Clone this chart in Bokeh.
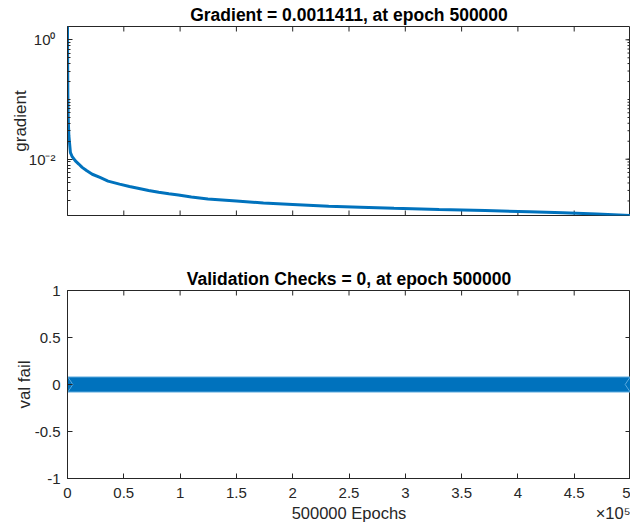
import math
from bokeh.plotting import figure
from bokeh.layouts import column, row
from bokeh.models import FixedTicker, LinearAxis, Range1d, Spacer
from bokeh.embed import file_html
from bokeh.resources import INLINE

# ---------------- data ----------------
grad_epochs = [0, 100, 300, 600, 1200, 2600, 4000, 7000, 10000, 13000, 17200, 22000,
               28800, 36000, 46200, 55000, 63600, 72000, 81000, 90000, 98500, 110000,
               124700, 150000, 174000, 200000, 232000, 260000, 290000, 330000, 371000,
               410000, 440000, 470000, 500000]
grad_values = [1.67, 0.5, 0.12, 0.05, 0.025, 0.0129, 0.0112, 0.0094, 0.0083, 0.0073,
               0.0064, 0.0056, 0.00495, 0.0043, 0.00383, 0.0035, 0.00324, 0.0030,
               0.00279, 0.00264, 0.00251, 0.00232, 0.00215, 0.00199, 0.00185, 0.00175,
               0.00163, 0.00157, 0.00151, 0.00144, 0.00138, 0.00132, 0.00127, 0.00121,
               0.0011411]

val_epochs = [0, 500000]
val_fail = [0, 0]

x_ticks = [0, 50000, 100000, 150000, 200000, 250000, 300000, 350000, 400000, 450000, 500000]
x_tick_labels = ["0", "0.5", "1", "1.5", "2", "2.5", "3", "3.5", "4", "4.5", "5"]

# bottom caption row: axis title and the x10^5 multiplier, with their x positions
x_caption_pos = [250000, 490000]
x_caption_text = ["500000 Epochs", "×10⁵"]

grad_major_ticks = [0.01, 1]
grad_tick_labels = ["10⁻²", "10⁰"]
grad_minor_ticks = [m * 10.0 ** e for e in (-3, -2, -1, 0) for m in range(1, 10)]

val_ticks = [-1, -0.5, 0, 0.5, 1]
val_tick_labels = ["-1", "-0.5", "0", "0.5", "1"]

grad_title = "Gradient = 0.0011411, at epoch 500000"
val_title = "Validation Checks = 0, at epoch 500000"
grad_ylabel = "gradient"
val_ylabel = "val fail"

# ---------------- style ----------------
FONT = "Liberation Sans"
AX = "#262626"
LINE = "#0072BD"
W = 623


def style_axis(ax):
    ax.axis_line_color = AX
    ax.major_tick_line_color = AX
    ax.minor_tick_line_color = AX
    ax.major_tick_in = 5
    ax.major_tick_out = 0
    ax.minor_tick_in = 3
    ax.minor_tick_out = 0
    ax.major_label_text_font = FONT
    ax.major_label_text_color = AX
    ax.major_label_text_font_size = "15px"
    ax.axis_label_text_font = FONT
    ax.axis_label_text_font_size = "17px"
    ax.axis_label_text_font_style = "normal"
    ax.axis_label_text_color = AX


def style_fig(p, title):
    p.title.text = title
    p.title.align = "center"
    p.title.text_font = FONT
    p.title.text_font_size = "17.5px"
    p.title.text_font_style = "bold"
    p.title.text_color = "#000000"
    p.title.standoff = 3
    p.title.offset = 0
    p.xgrid.visible = False
    p.ygrid.visible = False
    p.outline_line_color = AX
    p.outline_line_alpha = 1.0
    p.background_fill_color = "white"
    p.border_fill_color = "white"


def inner_ticks_x(p, ticks, y, size):
    # tick marks drawn as dash markers centred on the frame edge; the half outside is clipped
    p.scatter(ticks, [y] * len(ticks), marker="dash", angle=math.pi / 2, size=size,
              line_color=AX, line_width=1)


def inner_ticks_y(p, ticks, x, size):
    p.scatter([x] * len(ticks), ticks, marker="dash", size=size,
              line_color=AX, line_width=1)


xtick = FixedTicker(ticks=x_ticks, minor_ticks=[])

# ---------------- top: gradient ----------------
p1 = figure(width=W, height=250, y_axis_type="log",
            x_range=Range1d(0, x_ticks[-1]), y_range=Range1d(grad_values[-1], grad_values[0]),
            output_backend="svg", toolbar_location=None,
            min_border_left=52, min_border_right=0, min_border_top=26, min_border_bottom=35)
style_fig(p1, grad_title)
p1.xaxis.visible = False

gtick = FixedTicker(ticks=grad_major_ticks, minor_ticks=grad_minor_ticks)
p1.yaxis.ticker = gtick
for ax in p1.yaxis:
    style_axis(ax)
    ax.major_label_overrides = dict(zip(grad_major_ticks, grad_tick_labels))
    ax.major_label_standoff = 12
    ax.axis_label = grad_ylabel
    ax.axis_label_standoff = -4

inner_ticks_x(p1, x_ticks, grad_values[-1], 10)
inner_ticks_x(p1, x_ticks, grad_values[0], 10)
inner_ticks_y(p1, grad_major_ticks, x_ticks[-1], 10)
inner_ticks_y(p1, grad_minor_ticks, x_ticks[-1], 6)

p1.line(grad_epochs, grad_values, line_color=LINE, line_width=3)

# ---------------- bottom: validation checks ----------------
p2 = figure(width=W, height=276,
            x_range=p1.x_range, y_range=Range1d(val_ticks[0], val_ticks[-1]),
            output_backend="svg", toolbar_location=None,
            min_border_left=52, min_border_right=0, min_border_top=40, min_border_bottom=48)
style_fig(p2, val_title)

vtick = FixedTicker(ticks=val_ticks, minor_ticks=[])
p2.yaxis.ticker = vtick
p2.xaxis.ticker = xtick
for ax in p2.yaxis:
    style_axis(ax)
    ax.major_label_overrides = dict(zip(val_ticks, val_tick_labels))
    ax.major_label_standoff = 7
    ax.axis_label = val_ylabel
    ax.axis_label_standoff = -2
for ax in p2.xaxis:
    style_axis(ax)
    ax.major_label_overrides = dict(zip(x_ticks, x_tick_labels))
    ax.major_label_standoff = 9

cap = LinearAxis(ticker=FixedTicker(ticks=x_caption_pos, minor_ticks=[]))
style_axis(cap)
cap.axis_line_color = None
cap.major_tick_line_color = None
cap.major_tick_in = 0
cap.major_label_standoff = 3
cap.major_label_text_font_size = "16.5px"
cap.major_label_overrides = dict(zip(x_caption_pos, x_caption_text))
p2.add_layout(cap, "below")

inner_ticks_x(p2, x_ticks, val_ticks[-1], 10)
inner_ticks_y(p2, val_ticks, x_ticks[-1], 10)

p2.line(val_epochs, val_fail, line_color="#5AA9DD", line_width=16)
p2.line(val_epochs, val_fail, line_color=LINE, line_width=14)
p2.scatter(val_epochs, val_fail, marker="diamond", size=16,
           fill_color=LINE, line_color="#5AA9DD", line_width=1)

layout = row(Spacer(width=7), column(p1, p2, spacing=0), spacing=0)
open("out.html", "w").write(file_html(layout, INLINE))
